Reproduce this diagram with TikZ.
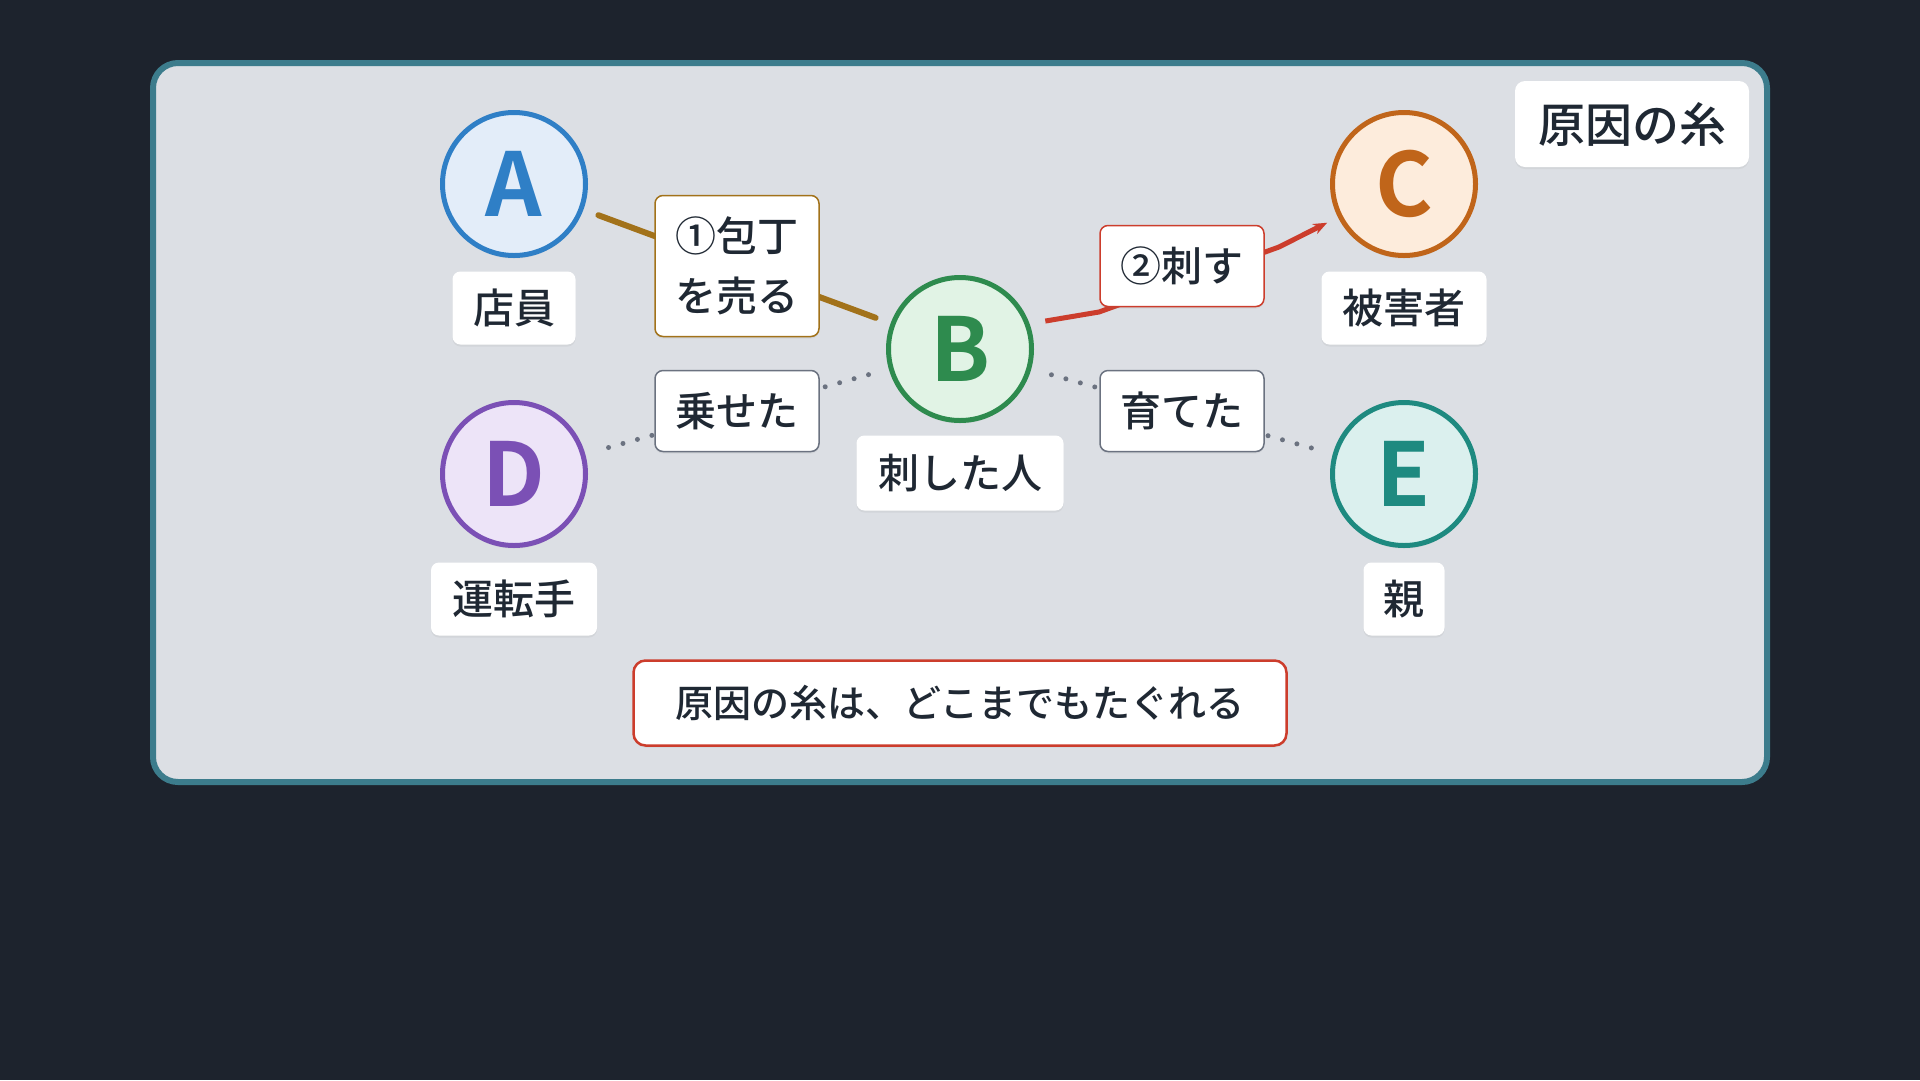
\documentclass[tikz,border=0pt]{standalone}
\usepackage{fontspec}
\setmainfont{Noto Sans CJK JP}[UprightFont={* Medium},BoldFont={* Bold}]
\usetikzlibrary{arrows.meta,shadows}
\definecolor{bg}{HTML}{1D232D}
\definecolor{panel}{HTML}{DCDFE4}
\definecolor{rim}{HTML}{3C7C8C}
\definecolor{ink}{HTML}{1F2833}
\definecolor{gold}{HTML}{A2721A}
\definecolor{stabred}{HTML}{CC3D2C}
\definecolor{dotgray}{HTML}{6B7280}
\definecolor{blueA}{HTML}{2F7FC6}\definecolor{blueAf}{HTML}{E3EDF9}
\definecolor{greenB}{HTML}{2E8B4E}\definecolor{greenBf}{HTML}{E1F3E5}
\definecolor{orangeC}{HTML}{C0651A}\definecolor{orangeCf}{HTML}{FDECDC}
\definecolor{purpleD}{HTML}{7B50B5}\definecolor{purpleDf}{HTML}{EDE4F8}
\definecolor{tealE}{HTML}{1E8A80}\definecolor{tealEf}{HTML}{DBF0EE}

\begin{document}
\begin{tikzpicture}[x=1pt,y=-1pt,
	person/.style={circle,line width=5pt,minimum size=143pt,inner sep=0pt,draw=#1,text=#1,
		font=\fontsize{88}{88}\selectfont\bfseries,drop shadow={opacity=0.12,shadow xshift=0pt,shadow yshift=-3pt}},
	namebox/.style={fill=white,rounded corners=8pt,minimum height=73pt,inner sep=0pt,text=ink,
		font=\fontsize{41}{41}\selectfont,drop shadow={opacity=0.10,shadow xshift=0pt,shadow yshift=-2pt}},
	actbox/.style={namebox,draw=#1,line width=1.5pt,minimum width=164pt,minimum height=81pt},
	knife/.style={line width=6pt,color=gold,line cap=round,shorten <=16pt,shorten >=16pt},
	kin/.style={line width=5pt,color=dotgray,line cap=round,dash pattern=on 0pt off 15pt,shorten <=21pt,shorten >=16pt},
	stab/.style={line width=5pt,color=stabred,line join=round,-{Stealth[length=14pt,width=11pt]},shorten <=16pt,shorten >=12pt}]
	\useasboundingbox (0,0) rectangle (1920,1080);
	\fill[bg] (0,0) rectangle (1920,1080);
	\draw[rim,fill=panel,line width=6pt,rounded corners=25pt] (153,63) rectangle (1767,782);

	\node[person=blueA,fill=blueAf] (A) at (514,184) {A};
	\node[person=greenB,fill=greenBf] (B) at (960,349) {B};
	\node[person=orangeC,fill=orangeCf] (C) at (1404,184) {C};
	\node[person=purpleD,fill=purpleDf] (D) at (514,474) {D};
	\node[person=tealE,fill=tealEf] (E) at (1404,474) {E};

	\coordinate (k1) at (1099,312);
	\coordinate (k2) at (1279,247);
	\draw[knife] (A) -- (B);
	\draw[kin] (B) -- (D);
	\draw[kin] (B) -- (E);
	\draw[stab] (B.20) -- (k1) -- (k2) -- (C);

	\node[namebox,minimum width=123pt] (clerk) at (514,308) {店員};
	\node[namebox,minimum width=166pt] (driver) at (514,599) {運転手};
	\node[namebox,minimum width=207pt,minimum height=75pt] (stabber) at (960,473) {刺した人};
	\node[namebox,minimum width=165pt] (victim) at (1404,308) {被害者};
	\node[namebox,minimum width=81pt] (parent) at (1404,599) {親};
	\node[namebox,minimum width=234pt,minimum height=86pt,rounded corners=10pt,font=\fontsize{47}{47}\selectfont] (title) at (1632,124) {原因の糸};

	\node[actbox=gold,minimum height=141pt,align=center,font=\fontsize{41}{60}\selectfont] (sell) at (737,266) {①包丁\\を売る};
	\node[actbox=stabred] (stabs) at (1182,266) {②刺す};
	\node[actbox=dotgray] (drove) at (737,411) {乗せた};
	\node[actbox=dotgray] (raised) at (1182,411) {育てた};

	\node[namebox,draw=stabred,line width=2.5pt,minimum width=653pt,minimum height=85pt,rounded corners=12pt,font=\fontsize{38}{38}\selectfont] (moral) at (960,703) {原因の糸は、どこまでもたぐれる};
\end{tikzpicture}
\end{document}
